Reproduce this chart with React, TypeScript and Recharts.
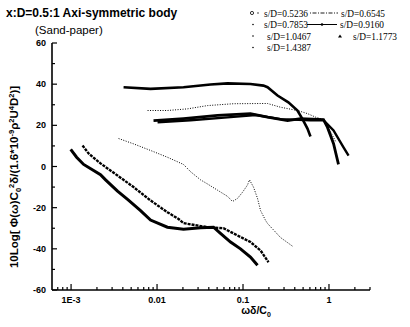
import React from 'react';
import { LineChart, Line, XAxis, YAxis } from 'recharts';

const W = 410;
const H = 327;

// x = ωδ/C0 (log axis), y = 10Log[...] in dB
const sd05236X = [0.00099, 0.00116, 0.0014, 0.0022, 0.00252, 0.00347, 0.00454, 0.00643, 0.0084, 0.0132, 0.0203, 0.0321, 0.0454, 0.0547, 0.0716, 0.0935, 0.122, 0.1475];
const sd05236Y = [8.3, 4.5, 1, -4, -6.5, -12, -16, -21.4, -26, -29.5, -30.5, -29.8, -29.5, -32.5, -36.7, -40, -44, -48];

const sd06545X = [0.00136, 0.0016, 0.0022, 0.00347, 0.00533, 0.0084, 0.0132, 0.0178, 0.0203, 0.0387, 0.0593, 0.0863, 0.122, 0.16, 0.198];
const sd06545Y = [10.2, 6.3, 1.5, -4.4, -10, -16.5, -22.2, -25.5, -27.5, -29.5, -30, -33.5, -36.7, -40.8, -46.5];

const sd07853X = [0.00357, 0.00533, 0.0084, 0.0132, 0.0203, 0.0245, 0.0321, 0.0387, 0.0505, 0.066, 0.0755, 0.0863, 0.0987, 0.1127, 0.119, 0.1324, 0.1475, 0.16, 0.183, 0.193, 0.273, 0.376];
const sd07853Y = [13.6, 11, 7.8, 4.5, 1, -2.5, -6.5, -8.5, -11.5, -14.5, -17, -15.5, -12.5, -9, -6.5, -10, -15.5, -21.4, -26.2, -27.7, -34.5, -38.7];

const sd09160X = [0.0091, 0.0203, 0.0505, 0.122, 0.193, 0.329, 0.467, 0.863, 0.961, 1.13, 1.29];
const sd09160Y = [22.3, 23.3, 24.8, 25.7, 24, 22.3, 23.3, 22.8, 19, 11.1, 1];

const sd10467X = [0.00776, 0.0132, 0.0226, 0.0387, 0.0776, 0.16, 0.193, 0.273, 0.43, 0.562, 0.697, 0.863, 1.01, 1.2];
const sd10467Y = [27.2, 27.2, 28, 29.6, 30.5, 30.6, 30.6, 28.8, 27.2, 25.7, 24, 22.8, 18, 12];

const sd11773X = [0.01014, 0.0245, 0.0716, 0.14, 0.273, 0.609, 0.863, 1.13, 1.47, 1.69];
const sd11773Y = [21.5, 22.5, 24, 25, 23, 22.5, 22.5, 17.5, 9.4, 5.3];

const sd14387X = [0.00408, 0.0084, 0.0203, 0.0419, 0.066, 0.122, 0.173, 0.193, 0.252, 0.337, 0.43, 0.492, 0.562, 0.609];
const sd14387Y = [38.5, 37.7, 38.5, 39.8, 40.4, 40.1, 39.3, 38.5, 34.5, 31.2, 27.2, 23, 18.4, 14.6];

const xTicks = [0.0007, 0.0008, 0.0009, 0.001, 0.002, 0.003, 0.004, 0.005, 0.006, 0.007, 0.008, 0.009, 0.01, 0.02, 0.03, 0.04, 0.05, 0.06, 0.07, 0.08, 0.09, 0.1, 0.2, 0.3, 0.4, 0.5, 0.6, 0.7, 0.8, 0.9, 1, 2, 3];
const xTickLabels: Record<string, string> = { '0.001': '1E-3', '0.01': '0.01', '0.1': '0.1', '1': '1' };
const yTicks = [-60, -50, -40, -30, -20, -10, 0, 10, 20, 30, 40, 50, 60];

const zip = (xs: number[], ys: number[]) => xs.map((x, i) => ({ x, y: ys[i] }));

const series = [
  { name: 's/D=0.5236', pts: zip(sd05236X, sd05236Y), w: 3, dash: undefined },
  { name: 's/D=0.6545', pts: zip(sd06545X, sd06545Y), w: 2.4, dash: '3 1' },
  { name: 's/D=0.7853', pts: zip(sd07853X, sd07853Y), w: 1, dash: '1 1.5' },
  { name: 's/D=0.9160', pts: zip(sd09160X, sd09160Y), w: 2.8, dash: undefined },
  { name: 's/D=1.0467', pts: zip(sd10467X, sd10467Y), w: 1, dash: '1 1.5' },
  { name: 's/D=1.1773', pts: zip(sd11773X, sd11773Y), w: 2.4, dash: undefined },
  { name: 's/D=1.4387', pts: zip(sd14387X, sd14387Y), w: 2.6, dash: undefined },
];

const tickFont = { fontFamily: 'Liberation Sans, Arial, sans-serif', fontSize: 9, fontWeight: 700 };

function XTick(props: any) {
  const { x, y, payload } = props;
  const label = xTickLabels[String(payload.value)];
  return (
    <g>
      <line x1={x} x2={x} y1={y} y2={y - (label ? 6 : 3)} stroke="#000" strokeWidth={1.2} />
      {label && (
        <text x={x} y={y + 13} textAnchor="middle" fill="#000" {...tickFont}>{label}</text>
      )}
    </g>
  );
}

function YTick(props: any) {
  const { x, y, payload } = props;
  const major = payload.value % 20 === 0;
  const ax = x + 4;
  return (
    <g>
      <line x1={ax} x2={ax + (major ? 5 : 3)} y1={y} y2={y} stroke="#000" strokeWidth={1.2} />
      {major && (
        <text x={x - 2} y={y + 3} textAnchor="end" fill="#000" {...tickFont}>{payload.value}</text>
      )}
    </g>
  );
}

const legendFont = {
  fontFamily: 'Liberation Serif, Times New Roman, serif',
  fontSize: 9.5,
  fill: '#000',
  textLength: 44,
  lengthAdjust: 'spacingAndGlyphs',
};

export default function App() {
  return (
    <div style={{ position: 'absolute', left: 0, top: 0, width: W, height: H, background: '#fff' }}>
      <LineChart width={W} height={H} margin={{ top: 43, right: 40, bottom: 7, left: 12 }}>
        <XAxis
          type="number"
          dataKey="x"
          scale="log"
          domain={[0.0006, 3]}
          allowDataOverflow
          ticks={xTicks}
          interval={0}
          tick={<XTick />}
          tickLine={false}
          tickSize={0}
          tickMargin={0}
          height={30}
          axisLine={{ stroke: '#000', strokeWidth: 1.6 }}
        />
        <YAxis
          type="number"
          domain={[-60, 60]}
          ticks={yTicks}
          interval={0}
          tick={<YTick />}
          tickLine={false}
          tickSize={0}
          tickMargin={4}
          width={40}
          axisLine={{ stroke: '#000', strokeWidth: 1.6 }}
        />
        {series.map((s) => (
          <Line
            key={s.name}
            data={s.pts}
            dataKey="y"
            type="linear"
            stroke="#000"
            strokeWidth={s.w}
            strokeDasharray={s.dash}
            dot={false}
            isAnimationActive={false}
          />
        ))}
      </LineChart>
      <svg width={W} height={H} style={{ position: 'absolute', left: 0, top: 0, pointerEvents: 'none' }}>
        <text x={6} y={17} fontFamily="Liberation Sans, Arial, sans-serif" fontSize={12} fontWeight={700} fill="#000">
          x:D=0.5:1 Axi-symmetric body
        </text>
        <text x={35} y={34} fontFamily="Liberation Sans, Arial, sans-serif" fontSize={11.5} fill="#000">
          (Sand-paper)
        </text>
        {/* legend */}
        <circle cx={252} cy={13} r={1.6} fill="none" stroke="#000" strokeWidth={0.8} />
        <circle cx={258} cy={13} r={0.7} fill="#000" />
        <text x={264} y={16.5} {...legendFont}>s/D=0.5236</text>
        <line x1={310} x2={338} y1={13} y2={13} stroke="#000" strokeWidth={0.9} strokeDasharray="1 1.5 4 1.5" />
        <text x={341} y={16.5} {...legendFont}>s/D=0.6545</text>
        <circle cx={253} cy={24.5} r={0.8} fill="#000" />
        <text x={264} y={28} {...legendFont}>s/D=0.7853</text>
        <line x1={307} x2={337} y1={24.5} y2={24.5} stroke="#000" strokeWidth={1} />
        <circle cx={322} cy={24.5} r={1.3} fill="#000" />
        <text x={340} y={28} {...legendFont}>s/D=0.9160</text>
        <circle cx={253} cy={36} r={0.8} fill="#000" />
        <text x={267} y={39.5} {...legendFont}>s/D=1.0467</text>
        <path d="M338,37.5 L340,34.5 L342,37.5 Z" fill="#000" />
        <text x={353} y={39.5} {...legendFont}>s/D=1.1773</text>
        <circle cx={253} cy={47.5} r={0.8} fill="#000" />
        <text x={267} y={51} {...legendFont}>s/D=1.4387</text>
        {/* axis titles */}
        <text
          transform="translate(18,177) rotate(-90)"
          textAnchor="middle"
          fontFamily="Liberation Sans, Arial, sans-serif"
          fontSize={11.5}
          fontWeight={700}
          fill="#000"
        >
          10Log[ Φ(ω)C<tspan dy={3} fontSize={7.5}>0</tspan><tspan dy={-7} fontSize={7.5}>2</tspan>
          <tspan dy={4}>δ/(1.6*10</tspan><tspan dy={-4} fontSize={7.5}>-9</tspan>
          <tspan dy={4}>ρ</tspan><tspan dy={-4} fontSize={7.5}>2</tspan>
          <tspan dy={4}>U</tspan><tspan dy={-4} fontSize={7.5}>4</tspan>
          <tspan dy={4}>D</tspan><tspan dy={-4} fontSize={7.5}>2</tspan>
          <tspan dy={4}>)]</tspan>
        </text>
        <text x={256} y={314} textAnchor="middle" fontFamily="Liberation Sans, Arial, sans-serif" fontSize={10.5} fontWeight={700} fill="#000">
          ωδ/C<tspan dy={3} fontSize={7}>0</tspan>
        </text>
      </svg>
    </div>
  );
}
